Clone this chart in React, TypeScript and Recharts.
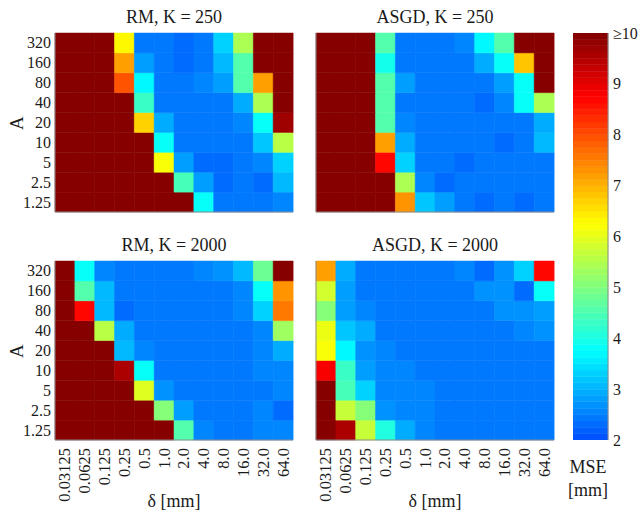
import React from 'react';
import { BarChart, Bar, Cell, XAxis, YAxis } from 'recharts';

const deltaLabels = ['0.03125', '0.0625', '0.125', '0.25', '0.5', '1.0', '2.0', '4.0', '8.0', '16.0', '32.0', '64.0'];
// rows top to bottom
const aLabels = ['320', '160', '80', '40', '20', '10', '5', '2.5', '1.25'];

// MSE [mm], 10 means >= 10
const rm250 = [
    [10, 10, 10, 6.3, 2.45, 2.45, 2.25, 2.45, 3.25, 5.4, 10, 10],
    [10, 10, 10, 7.2, 2.75, 2.45, 2.25, 2.45, 3.1, 4.6, 10, 10],
    [10, 10, 10, 7.9, 3.7, 2.45, 2.45, 2.6, 2.75, 4.6, 7.2, 10],
    [10, 10, 10, 10, 4.3, 2.45, 2.45, 2.45, 2.45, 2.9, 5.4, 10],
    [10, 10, 10, 10, 6.7, 2.9, 2.45, 2.45, 2.45, 2.5, 3.75, 9.7],
    [10, 10, 10, 10, 10, 3.75, 2.45, 2.45, 2.45, 2.45, 3.2, 5.6],
    [10, 10, 10, 10, 10, 6.2, 2.75, 2.3, 2.3, 2.45, 2.6, 3.25],
    [10, 10, 10, 10, 10, 10, 4.4, 2.75, 2.3, 2.45, 2.3, 3.1],
    [10, 10, 10, 10, 10, 10, 10, 3.75, 2.45, 2.45, 2.45, 2.6],
];

const asgd250 = [
    [10, 10, 10, 4.6, 2.45, 2.45, 2.45, 2.6, 3.7, 4.6, 10, 10],
    [10, 10, 10, 3.9, 2.45, 2.45, 2.45, 2.45, 2.9, 3.8, 6.8, 10],
    [10, 10, 10, 4.6, 2.75, 2.45, 2.45, 2.45, 2.45, 2.75, 3.8, 10],
    [10, 10, 10, 4.6, 2.45, 2.45, 2.45, 2.45, 2.25, 2.6, 3.75, 5.4],
    [10, 10, 10, 4.5, 2.5, 2.45, 2.45, 2.45, 2.45, 2.45, 2.45, 2.9],
    [10, 10, 10, 7.2, 2.9, 2.45, 2.45, 2.45, 2.45, 2.3, 2.45, 3.0],
    [10, 10, 10, 8.7, 3.3, 2.45, 2.45, 2.3, 2.45, 2.45, 2.45, 2.45],
    [10, 10, 10, 10, 5.4, 2.6, 2.3, 2.45, 2.45, 2.45, 2.45, 2.45],
    [10, 10, 10, 10, 7.3, 3.2, 2.75, 2.45, 2.3, 2.45, 2.3, 2.45],
];

const rm2000 = [
    [10, 3.75, 2.6, 2.4, 2.4, 2.4, 2.4, 2.5, 2.7, 3.1, 4.8, 10],
    [10, 4.5, 3.1, 2.4, 2.4, 2.4, 2.4, 2.4, 2.4, 2.6, 3.75, 7.3],
    [10, 8.7, 3.1, 2.35, 2.4, 2.4, 2.4, 2.4, 2.4, 2.6, 3.3, 7.6],
    [10, 10, 5.5, 2.95, 2.4, 2.4, 2.4, 2.4, 2.4, 2.4, 2.6, 5.3],
    [10, 10, 10, 3.1, 2.5, 2.4, 2.4, 2.4, 2.4, 2.4, 2.6, 2.95],
    [10, 10, 10, 9.5, 3.75, 2.4, 2.4, 2.4, 2.4, 2.4, 2.55, 2.55],
    [10, 10, 10, 10, 5.9, 2.65, 2.4, 2.4, 2.4, 2.4, 2.45, 2.55],
    [10, 10, 10, 10, 10, 5.1, 2.75, 2.4, 2.4, 2.4, 2.5, 2.3],
    [10, 10, 10, 10, 10, 10, 4.5, 2.55, 2.4, 2.4, 2.5, 2.5],
];

const asgd2000 = [
    [7.2, 2.9, 2.4, 2.4, 2.4, 2.4, 2.4, 2.55, 2.25, 2.7, 3.25, 8.7],
    [5.8, 2.8, 2.4, 2.4, 2.4, 2.4, 2.4, 2.4, 2.65, 2.65, 2.3, 3.8],
    [5.0, 2.8, 2.5, 2.4, 2.4, 2.4, 2.4, 2.4, 2.4, 2.65, 2.7, 2.75],
    [6.1, 3.2, 2.9, 2.4, 2.4, 2.4, 2.4, 2.4, 2.4, 2.4, 2.55, 2.7],
    [6.2, 3.7, 2.65, 2.55, 2.4, 2.4, 2.4, 2.4, 2.4, 2.4, 2.45, 2.45],
    [8.8, 4.3, 2.75, 2.55, 2.5, 2.4, 2.4, 2.4, 2.4, 2.4, 2.4, 2.4],
    [10, 4.4, 3.3, 2.6, 2.55, 2.5, 2.4, 2.4, 2.4, 2.4, 2.4, 2.4],
    [10, 5.7, 5.0, 2.7, 2.6, 2.5, 2.4, 2.4, 2.4, 2.4, 2.4, 2.4],
    [10, 9.5, 5.7, 4.1, 2.9, 2.55, 2.4, 2.4, 2.4, 2.4, 2.4, 2.4],
];

const cbTicks = [2, 3, 4, 5, 6, 7, 8, 9, 10];

const FONT = "'Liberation Serif', 'Times New Roman', Times, serif";
const BOX = '#8a8a8a';
const TICK = '#555';
const TXT = '#1a1a1a';

// jet, cut so that 2 lands on light blue and 10 on dark red, 64 levels
const T0 = 0.2;
const LEVELS = 64;
const clamp = (v: number) => Math.min(1, Math.max(0, v));
function jet(v: number) {
    const c = clamp((v - 2) / 8);
    const k = Math.min(Math.floor(c * LEVELS), LEVELS - 1);
    const t = T0 + (1 - T0) * ((k + 0.5) / LEVELS);
    const r = clamp(1.5 - Math.abs(4 * t - 3));
    const g = clamp(1.5 - Math.abs(4 * t - 2));
    const b = clamp(1.5 - Math.abs(4 * t - 1));
    const h = (x: number) => Math.round(x * 255).toString(16).padStart(2, '0');
    return '#' + h(r) + h(g) + h(b);
}

const PW = 238;
const PH = 179;

const DeltaTick = (props: any) => {
    const { x, y, payload } = props;
    return (
        <text x={x} y={y} transform={`rotate(-90 ${x} ${y})`} textAnchor="end" dominantBaseline="central"
            fontSize={16.5} fill={TXT} style={{ fontFamily: FONT }}>
            {payload.value}
        </text>
    );
};

const ATick = (props: any) => {
    const { x, y, payload, tickFormatter } = props;
    return (
        <text x={x} y={y} textAnchor="end" dominantBaseline="central" fontSize={16} fill={TXT} style={{ fontFamily: FONT }}>
            {tickFormatter ? tickFormatter(payload.value) : payload.value}
        </text>
    );
};

const CbTick = (props: any) => {
    const { x, y, payload } = props;
    return (
        <text x={x} y={y} textAnchor="start" dominantBaseline="central" fontSize={16} fill={TXT} style={{ fontFamily: FONT }}>
            {payload.value === 10 ? '≥10' : String(payload.value)}
        </text>
    );
};

type HeatmapProps = {
    title: string;
    values: number[][];
    px: number;
    py: number;
    showA: boolean;
    showDelta: boolean;
};

function Heatmap({ title, values, px, py, showA, showDelta }: HeatmapProps) {
    const nRows = aLabels.length;
    const data = deltaLabels.map((d) => {
        const row: Record<string, string | number> = { d };
        aLabels.forEach((_, k) => { row['r' + k] = 1; });
        return row;
    });
    const yTicks = aLabels.map((_, k) => k + 0.5);
    const fmtA = (v: number) => aLabels[nRows - 1 - Math.floor(v)];

    return (
        <>
            <div style={{ position: 'absolute', left: px, top: py - 27, width: PW, textAlign: 'center', fontSize: 18, lineHeight: '22px' }}>
                {title}
            </div>
            <div style={{ position: 'absolute', left: px - 60, top: py - 10 }}>
                <BarChart width={PW + 70} height={PH + 80} data={data} margin={{ top: 10, right: 10, left: 0, bottom: 0 }}
                    barCategoryGap={0} barGap={0}>
                    <XAxis dataKey="d" height={70} interval={0} tick={showDelta ? <DeltaTick /> : false}
                        tickLine={false} tickSize={0} tickMargin={8} axisLine={{ stroke: BOX }} />
                    <XAxis xAxisId="in" dataKey="d" mirror height={0} interval={0} tick={false}
                        tickSize={3} tickLine={{ stroke: TICK }} axisLine={false} />
                    <XAxis xAxisId="top" dataKey="d" orientation="top" mirror height={0} interval={0} tick={false}
                        tickSize={3} tickLine={{ stroke: TICK }} axisLine={{ stroke: BOX }} />
                    <YAxis type="number" domain={[0, nRows]} ticks={yTicks} tickFormatter={fmtA} width={60} interval={0}
                        tick={showA ? <ATick /> : false}
                        tickLine={false} tickSize={0} tickMargin={4} axisLine={{ stroke: BOX }} />
                    <YAxis yAxisId="in" type="number" domain={[0, nRows]} ticks={yTicks} mirror width={0} tick={false}
                        interval={0} tickSize={3} tickLine={{ stroke: TICK }} axisLine={false} />
                    <YAxis yAxisId="right" orientation="right" type="number" domain={[0, nRows]} ticks={yTicks} mirror width={0}
                        interval={0} tick={false} tickSize={3} tickLine={{ stroke: TICK }} axisLine={{ stroke: BOX }} />
                    {aLabels.map((_, k) => (
                        <Bar key={k} dataKey={'r' + k} stackId="s" isAnimationActive={false}>
                            {values[nRows - 1 - k].map((v, c) => {
                                const f = jet(v);
                                return <Cell key={c} fill={f} stroke={f} strokeWidth={0.5} />;
                            })}
                        </Bar>
                    ))}
                </BarChart>
            </div>
        </>
    );
}

const CBX = 573;
const CBY = 33;
const CBW = 35;
const CBH = 407;

function ColorBar() {
    const bands = Array.from({ length: LEVELS }, (_, k) => 2 + ((k + 0.5) * 8) / LEVELS);
    const row: Record<string, string | number> = { k: 'mse', base: 2 };
    bands.forEach((_, k) => { row['b' + k] = 8 / LEVELS; });
    return (
        <div style={{ position: 'absolute', left: CBX, top: CBY - 10 }}>
            <BarChart width={CBW + 40} height={CBH + 20} data={[row]} margin={{ top: 10, right: 0, left: 0, bottom: 10 }}
                barCategoryGap={0} barGap={0}>
                <XAxis dataKey="k" height={0} tick={false} tickLine={false} axisLine={{ stroke: BOX }} />
                <XAxis xAxisId="top" dataKey="k" orientation="top" mirror height={0} tick={false} tickLine={false}
                    axisLine={{ stroke: BOX }} />
                <YAxis orientation="right" type="number" domain={[2, 10]} allowDataOverflow ticks={cbTicks} interval={0}
                    width={40} tick={<CbTick />} tickSize={0} tickMargin={5} tickLine={false} axisLine={{ stroke: BOX }} />
                <YAxis yAxisId="rin" orientation="right" type="number" domain={[2, 10]} ticks={cbTicks} mirror width={0}
                    interval={0} tick={false} tickSize={3} tickLine={{ stroke: TICK }} axisLine={false} />
                <YAxis yAxisId="left" type="number" domain={[2, 10]} ticks={cbTicks} mirror width={0} tick={false}
                    interval={0} tickSize={3} tickLine={{ stroke: TICK }} axisLine={{ stroke: BOX }} />
                <Bar dataKey="base" stackId="c" fill="none" isAnimationActive={false} />
                {bands.map((v, k) => (
                    <Bar key={k} dataKey={'b' + k} stackId="c" fill={jet(v)} stroke={jet(v)} strokeWidth={0.5}
                        isAnimationActive={false} />
                ))}
            </BarChart>
        </div>
    );
}

export default function App() {
    return (
        <div style={{ position: 'absolute', left: 0, top: 0, width: 641, height: 514, background: '#fff', fontFamily: FONT, color: TXT, overflow: 'hidden' }}>
            <Heatmap title="RM, K = 250" values={rm250} px={55} py={33} showA showDelta={false} />
            <Heatmap title="ASGD, K = 250" values={asgd250} px={316} py={33} showA={false} showDelta={false} />
            <Heatmap title="RM, K = 2000" values={rm2000} px={55} py={261} showA showDelta />
            <Heatmap title="ASGD, K = 2000" values={asgd2000} px={316} py={261} showA={false} showDelta />
            <ColorBar />

            <div style={{ position: 'absolute', left: 6, top: 112, width: 22, height: 22, fontSize: 19, lineHeight: '22px', textAlign: 'center', transform: 'rotate(-90deg)' }}>A</div>
            <div style={{ position: 'absolute', left: 6, top: 340, width: 22, height: 22, fontSize: 19, lineHeight: '22px', textAlign: 'center', transform: 'rotate(-90deg)' }}>A</div>

            <div style={{ position: 'absolute', left: 55, top: 490, width: PW, textAlign: 'center', fontSize: 18, lineHeight: '22px' }}>δ [mm]</div>
            <div style={{ position: 'absolute', left: 316, top: 490, width: PW, textAlign: 'center', fontSize: 18, lineHeight: '22px' }}>δ [mm]</div>

            <div style={{ position: 'absolute', left: 558, top: 456, width: 60, textAlign: 'center', fontSize: 18, lineHeight: '22px' }}>MSE</div>
            <div style={{ position: 'absolute', left: 558, top: 479, width: 60, textAlign: 'center', fontSize: 18, lineHeight: '22px' }}>[mm]</div>
        </div>
    );
}
